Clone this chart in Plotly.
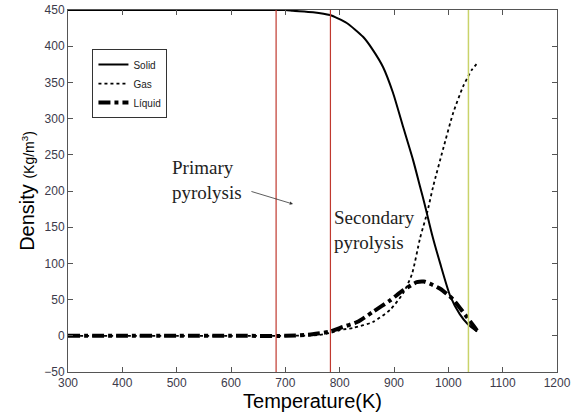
import plotly.graph_objects as go

# Data
solid_T = [300, 400, 500, 600, 700, 714, 751, 782, 813, 843, 861, 880, 898, 917, 935, 948, 957, 970, 985, 1003, 1021, 1036, 1053]
solid_D = [450, 450, 450, 450, 450, 449, 447, 443, 432, 413, 395, 371, 336, 288, 243, 206, 180, 140, 100, 56, 30, 16, 6]

gas_T = [300, 400, 500, 600, 700, 760, 783, 801, 825, 861, 893, 917, 933, 948, 961, 972, 990, 1009, 1027, 1043, 1055]
gas_D = [0, 0, 0, 0, 0, 1, 4, 8, 11, 19, 36, 59, 85, 135, 170, 206, 257, 308, 344, 367, 378]

liq_T = [300, 400, 500, 600, 700, 750, 783, 801, 832, 861, 893, 917, 942, 955, 966, 985, 1009, 1040, 1053]
liq_D = [0, 0, 0, 0, 0, 2, 6, 11, 19, 33, 49, 63, 74, 75, 72, 65, 50, 20, 7]

red_lines_T = [683, 783]
yellow_lines_T = [1037]

x_ticks = [300, 400, 500, 600, 700, 800, 900, 1000, 1100, 1200]
y_ticks = [-50, 0, 50, 100, 150, 200, 250, 300, 350, 400, 450]

fig = go.Figure()
fig.add_trace(go.Scatter(x=solid_T, y=solid_D, name="Solid", mode="lines",
                         line=dict(color="black", width=2, shape="spline", smoothing=0.6)))
fig.add_trace(go.Scatter(x=gas_T, y=gas_D, name="Gas", mode="lines",
                         line=dict(color="black", width=1.8, dash="dot", shape="spline", smoothing=0.6)))
fig.add_trace(go.Scatter(x=liq_T, y=liq_D, name="Líquid", mode="lines",
                         line=dict(color="black", width=4, dash="12px,4px,4px,4px", shape="spline", smoothing=0.6)))

for t in red_lines_T:
    fig.add_shape(type="line", x0=t, x1=t, y0=0, y1=1, xref="x", yref="paper",
                  line=dict(color="#c0392f", width=1.2))
for t in yellow_lines_T:
    fig.add_shape(type="line", x0=t, x1=t, y0=0, y1=1, xref="x", yref="paper",
                  line=dict(color="#c9d36a", width=1.5))

serif = "Liberation Serif, DejaVu Serif, serif"
fig.add_annotation(x=488, y=215, text="Primary<br>pyrolysis", showarrow=False,
                   font=dict(family=serif, size=19, color="#222"), align="left",
                   xanchor="left", yanchor="middle")
fig.add_annotation(x=714, y=182, ax=-43, ay=-13, axref="pixel", ayref="pixel",
                   text="", showarrow=True, arrowhead=2, arrowsize=0.8, arrowwidth=0.8,
                   arrowcolor="#333")
fig.add_annotation(x=786, y=146, text="Secondary<br>pyrolysis", showarrow=False,
                   font=dict(family=serif, size=19, color="#222"), align="left",
                   xanchor="left", yanchor="middle")

axis_common = dict(showline=True, linecolor="#555", linewidth=1, mirror="ticks",
                   ticks="inside", ticklen=5, tickcolor="#555", showgrid=False, zeroline=False,
                   automargin=False,
                   tickfont=dict(family="Arial, Liberation Sans", size=12, color="#3c3a4a"))

fig.update_layout(
    width=575, height=417,
    margin=dict(l=68, r=18, t=10, b=45),
    paper_bgcolor="white", plot_bgcolor="white",
    xaxis=dict(range=[300, 1200], tickvals=x_ticks,
               title=dict(text="Temperature(K)", font=dict(family="Arial, Liberation Sans", size=20, color="black"),
                          standoff=2),
               **axis_common),
    yaxis=dict(range=[-50, 450], tickvals=y_ticks,
               title=dict(text='Density <span style="font-size:14px">(Kg/m<sup>3</sup>)</span>',
                          font=dict(family="Arial, Liberation Sans", size=20, color="black"),
                          standoff=4),
               **axis_common),
    legend=dict(x=0.05, y=0.892, xanchor="left", yanchor="top",
                bgcolor="white", bordercolor="#333", borderwidth=1,
                font=dict(family="Arial, Liberation Sans", size=10, color="#222"),
                itemwidth=30, tracegroupgap=2),
    showlegend=True,
)

fig.write_html("out.html")
